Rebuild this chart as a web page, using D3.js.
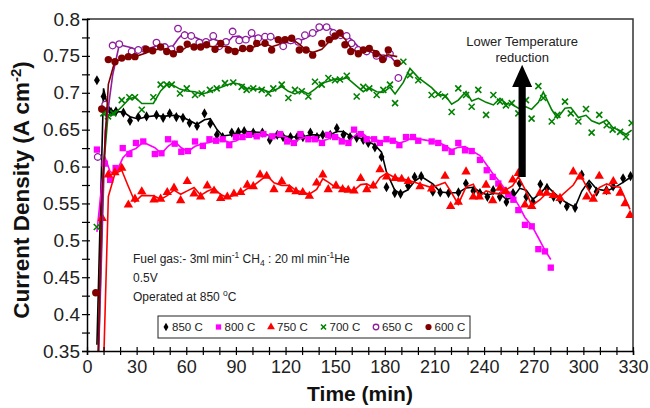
<!DOCTYPE html>
<html><head><meta charset="utf-8">
<script src="https://cdn.jsdelivr.net/npm/d3@7"></script>
<style>body{margin:0;background:#fff}svg{display:block;font-family:"Liberation Sans",Arial,sans-serif}</style>
</head><body><svg id="c" width="650" height="408"></svg>
<script>
// ---- data (time in min, current density in A cm-2) ----
const t850 = [6,10,12,14.5,17.5,22,26,31,36,42,46,50,54,58,62,66.5,71,74.5,78.5,82,87.5,91.5,95,100.5,106,110.5,115,118.5,123,127,130.5,135,139,142.5,147,151,155,159,163,167,170,174,178,181,186,189.5,194,198,202,209,213.5,218.5,224.5,229,233.5,237.5,242,245.5,249.5,253.5,257.5,261.5,265.5,269.5,274,278,282,286,290,295,299,303.5,308,314,318,324,328.5];
const v850 = [0.717,0.695,0.677,0.674,0.675,0.673,0.662,0.667,0.668,0.670,0.666,0.672,0.667,0.666,0.659,0.655,0.672,0.658,0.643,0.640,0.646,0.647,0.648,0.646,0.646,0.636,0.643,0.640,0.640,0.640,0.640,0.646,0.640,0.643,0.643,0.652,0.643,0.640,0.639,0.636,0.632,0.626,0.613,0.572,0.564,0.563,0.574,0.586,0.587,0.566,0.565,0.564,0.565,0.577,0.567,0.564,0.559,0.568,0.559,0.552,0.564,0.577,0.559,0.552,0.576,0.571,0.559,0.555,0.546,0.544,0.589,0.573,0.566,0.568,0.573,0.584,0.587];
const t800 = [6,10.7,14,17.3,21.6,25.6,29.6,34,41,45,49,53,57,61,65.3,70,74,78,82,86,90,94,98,102.6,106.6,112,116.7,121,125,129,133.8,137.8,142,145.8,150,154,158,161.4,165.4,169,173.5,177,181,184.8,188.8,192.8,197,200.2,208.3,212.3,216.4,220.4,224.4,228.5,232.5,237.5,241.6,245.2,248.6,251.6,254.6,257.7,260.7,264.7,268.8,272.8,276.8,280.3];
const v800 = [0.623,0.604,0.582,0.598,0.625,0.617,0.632,0.634,0.617,0.618,0.637,0.631,0.620,0.621,0.634,0.628,0.637,0.635,0.637,0.629,0.640,0.640,0.643,0.641,0.644,0.641,0.644,0.634,0.632,0.644,0.637,0.637,0.632,0.643,0.640,0.634,0.632,0.650,0.644,0.637,0.637,0.632,0.637,0.635,0.629,0.640,0.640,0.635,0.634,0.632,0.625,0.620,0.632,0.622,0.621,0.609,0.595,0.586,0.577,0.568,0.562,0.555,0.541,0.521,0.519,0.488,0.485,0.463];
const t750 = [9.2,12.9,16.9,21,25,29,33.1,40.5,44.5,48.5,52.6,56.6,60.6,64.7,68.7,72.7,76.8,80.8,84.8,88.8,92.9,96.9,100.5,104.6,108.6,113,117.7,122.3,126.3,130.4,134.4,138.8,142.5,145.8,150.5,154.5,157.9,161.4,165.4,169.1,173,177.1,181.1,186.2,190.2,194.2,201.3,208.3,216.4,219.8,224.4,229.1,233.5,237.1,241.2,245.2,249.6,253.2,257.3,260.7,264.7,268.8,273.8,277.8,281.8,285.9,293.9,298,302,306,309.6,314.1,318.1,322.2,325.2,328.2];
const v750 = [0.53,0.589,0.592,0.598,0.548,0.556,0.566,0.555,0.556,0.565,0.571,0.554,0.580,0.563,0.559,0.574,0.567,0.557,0.559,0.563,0.565,0.575,0.573,0.589,0.587,0.569,0.580,0.569,0.566,0.565,0.560,0.578,0.589,0.569,0.574,0.569,0.568,0.567,0.584,0.569,0.574,0.596,0.586,0.584,0.583,0.580,0.573,0.570,0.587,0.546,0.552,0.593,0.559,0.559,0.575,0.554,0.571,0.566,0.582,0.591,0.548,0.546,0.564,0.564,0.561,0.557,0.593,0.586,0.559,0.556,0.587,0.566,0.580,0.564,0.550,0.534];
const t700 = [5.9,9.9,12.7,15.9,21,25.6,29,33.1,40.1,44.5,48.2,51.2,56.2,60.3,65.3,69.3,74.3,78.4,83.4,88.4,93.5,96.5,100.5,105.6,109.6,112.6,117.7,121.7,125.7,129.8,133.8,137.8,141.9,145.9,149.9,152.9,157,163,167,170.6,175.1,179.1,183.1,186.2,191.2,195.2,200.2,208.3,212.3,216.4,220.4,224.4,229.1,232.5,236.5,241.2,245.6,249.6,253.2,256.7,260.7,265.3,268.7,272.8,275.8,280.9,284.3,288.9,292.4,297,301.6,305,309.6,314.1,317.7,322.2,325.8,329.2];
const v700 = [0.518,0.672,0.668,0.672,0.690,0.694,0.694,0.677,0.694,0.711,0.711,0.711,0.699,0.706,0.697,0.699,0.704,0.706,0.713,0.714,0.708,0.704,0.706,0.704,0.699,0.706,0.711,0.693,0.704,0.702,0.695,0.715,0.711,0.720,0.717,0.718,0.723,0.695,0.708,0.706,0.697,0.704,0.711,0.686,0.742,0.724,0.717,0.697,0.698,0.695,0.674,0.706,0.697,0.681,0.704,0.670,0.697,0.688,0.683,0.686,0.672,0.690,0.665,0.709,0.693,0.661,0.670,0.688,0.672,0.661,0.678,0.646,0.670,0.656,0.650,0.647,0.640,0.659];
const t650 = [6.5,11,15.5,19.5,27,31,35,42,47,51,55,59,63,67.9,71.9,76.3,79.9,84,88,92,96,99.5,103.5,107.6,111,118.6,123.1,127.7,131.7,136.4,140.4,144.8,148.9,153.3,156.9,159.9,163.9,169,175,179.1,183.1,188.2];
const v650 = [0.613,0.684,0.764,0.766,0.756,0.758,0.759,0.768,0.762,0.759,0.787,0.778,0.777,0.768,0.769,0.777,0.763,0.769,0.783,0.771,0.772,0.781,0.774,0.776,0.776,0.763,0.771,0.769,0.778,0.781,0.789,0.789,0.781,0.778,0.777,0.767,0.758,0.756,0.750,0.747,0.753,0.720];
const t600 = [5.3,8.9,12.9,16.9,21,25,29,35.7,39.7,44.5,48.2,52.2,56.2,60.6,64.7,68.7,72.3,77.4,80.8,85.4,89.5,94.1,98.5,102.6,107.6,111.6,115.6,119.7,123.7,128.3,132.4,136.4,141.9,146.4,149.9,152.9,155.9,159.4,164,167,170.6,174.7,178.7,182.1,187.5];
const v600 = [0.429,0.678,0.745,0.742,0.747,0.749,0.749,0.759,0.757,0.762,0.756,0.753,0.759,0.766,0.762,0.762,0.765,0.759,0.767,0.758,0.756,0.760,0.760,0.767,0.767,0.758,0.772,0.772,0.774,0.758,0.758,0.751,0.767,0.772,0.777,0.781,0.765,0.756,0.753,0.758,0.760,0.753,0.745,0.758,0.740];

// value at which each 2-period moving-average trendline begins (start of run)
const lineStarts = [0, 0.40, 0, 0, 0, 0];
const seriesNames = ["850 C","800 C","750 C","700 C","650 C","600 C"];
const seriesTimes = [t850,t800,t750,t700,t650,t600];
const seriesValues = [v850,v800,v750,v700,v650,v600];

const xMajorTicks = [0,30,60,90,120,150,180,210,240,270,300,330];
const xMinorTicks = d3.range(0,331,10);
const yMajorTicks = [0.35,0.4,0.45,0.5,0.55,0.6,0.65,0.7,0.75,0.8];
const yTickLabels = ["0.35","0.4","0.45","0.5","0.55","0.6","0.65","0.7","0.75","0.8"];
const yMinorTicks = d3.range(0,19).map(i=>0.35+i*0.025);

// ---- styles ----
const colors = ["#000000","#FF00FF","#FF0000","#008000","#8E1E9E","#800000"];
const markerTypes = ["diamond","square","triangle","x","circleOpen","circle"];

const svg = d3.select("#c");
const x = d3.scaleLinear().domain([0,330]).range([87,633]);
const y = d3.scaleLinear().domain([0.35,0.8]).range([351,19]);

svg.append("rect").attr("width",650).attr("height",408).attr("fill","#fff");
svg.append("defs").append("clipPath").attr("id","clip").append("rect")
  .attr("x",x(0)).attr("y",y(0.8)).attr("width",x(330)-x(0)).attr("height",y(0.35)-y(0.8));

// frame top/right
svg.append("path").attr("d",`M${x(0)},${y(0.8)}H${x(330)}V${y(0.35)}`)
  .attr("fill","none").attr("stroke","#333").attr("stroke-width",1.5);

function drawMarker(sel, type, color, k){
  k = k || 1;
  if(type==="diamond") sel.append("path").attr("d",d3.symbol(d3.symbolDiamond,30*k)()).attr("fill",color);
  else if(type==="square") sel.append("path").attr("d",d3.symbol(d3.symbolSquare,40*k)()).attr("fill",color);
  else if(type==="triangle") sel.append("path").attr("d",d3.symbol(d3.symbolTriangle,38*k)()).attr("fill",color);
  else if(type==="x") { const s=3*Math.sqrt(k); sel.append("path").attr("d",`M-${s},-${s}L${s},${s}M-${s},${s}L${s},-${s}`).attr("stroke",color).attr("stroke-width",1.6).attr("fill","none"); }
  else if(type==="circleOpen") sel.append("circle").attr("r",3.3*Math.sqrt(k)).attr("fill","#fff").attr("stroke",color).attr("stroke-width",1.3);
  else sel.append("circle").attr("r",3.7*Math.sqrt(k)).attr("fill",color);
}

const plot = svg.append("g").attr("clip-path","url(#clip)");
const line = d3.line().x(d=>x(d.t)).y(d=>y(d.v));
seriesNames.forEach((name,si)=>{
  const ts = seriesTimes[si], vs = seriesValues[si];
  const ext = [lineStarts[si]].concat(vs);
  const trend = vs.map((v,i)=>({t:ts[i], v:(ext[i]+ext[i+1])/2}));
  const g = plot.append("g");
  g.append("path").attr("d",line(trend)).attr("fill","none").attr("stroke",colors[si]).attr("stroke-width",1.6);
  const pts = vs.map((v,i)=>({t:ts[i],v}));
  g.selectAll("g.m").data(pts).join("g").attr("class","m")
    .attr("transform",d=>`translate(${x(d.t)},${y(d.v)})`)
    .each(function(){ drawMarker(d3.select(this), markerTypes[si], colors[si]); });
});

// axes
const yAxis = svg.append("g").attr("transform",`translate(${x(0)},0)`)
  .call(d3.axisLeft(y).tickValues(yMinorTicks).tickSize(5).tickFormat(""));
yAxis.selectAll(".tick line").attr("x1",3).attr("stroke","#000").attr("stroke-width",1.2);
yAxis.select(".domain").attr("stroke","#000").attr("stroke-width",1.5);
const yLab = svg.append("g").attr("transform",`translate(${x(0)},0)`)
  .call(d3.axisLeft(y).tickValues(yMajorTicks).tickSize(0).tickPadding(7).tickFormat((d,i)=>yTickLabels[i]));
yLab.select(".domain").remove();
yLab.selectAll("text").attr("font-size",19).attr("fill","#222").attr("font-family","Liberation Sans, Arial, sans-serif");

const xAxis = svg.append("g").attr("transform",`translate(0,${y(0.35)})`)
  .call(d3.axisBottom(x).tickValues(xMinorTicks).tickSize(4).tickFormat(""));
xAxis.selectAll(".tick line").attr("y1",-4).attr("stroke","#000").attr("stroke-width",1.2);
xAxis.select(".domain").attr("stroke","#000").attr("stroke-width",1.5);
const xLab = svg.append("g").attr("transform",`translate(0,${y(0.35)})`)
  .call(d3.axisBottom(x).tickValues(xMajorTicks).tickSize(0).tickPadding(9).tickFormat(d3.format("d")));
xLab.select(".domain").remove();
xLab.selectAll("text").attr("font-size",18).attr("fill","#222").attr("font-family","Liberation Sans, Arial, sans-serif");

// axis titles
svg.append("text").attr("x",(x(0)+x(330))/2).attr("y",401).attr("text-anchor","middle")
  .attr("font-size",21).attr("font-weight","bold").attr("fill","#111").text("Time (min)");
const yt = svg.append("text").attr("transform","translate(29,190) rotate(-90)").attr("text-anchor","middle")
  .attr("font-size",22.5).attr("font-weight","bold").attr("fill","#111");
yt.append("tspan").text("Current Density (A cm");
yt.append("tspan").attr("dy",-8).attr("font-size",15).text("-2");
yt.append("tspan").attr("dy",8).text(")");

// annotations
const ann = svg.append("g").attr("font-size",12).attr("fill","#222");
const l1 = ann.append("text").attr("x",133).attr("y",263);
l1.append("tspan").text("Fuel gas:- 3ml min");
l1.append("tspan").attr("dy",-5).attr("font-size",8.5).text("-1");
l1.append("tspan").attr("dy",5).text(" CH");
l1.append("tspan").attr("dy",3).attr("font-size",8.5).text("4");
l1.append("tspan").attr("dy",-3).text(" : 20 ml min");
l1.append("tspan").attr("dy",-5).attr("font-size",8.5).text("-1");
l1.append("tspan").attr("dy",5).text("He");
ann.append("text").attr("x",133).attr("y",282).text("0.5V");
const l3 = ann.append("text").attr("x",133).attr("y",301);
l3.append("tspan").text("Operated at 850 ");
l3.append("tspan").attr("dy",-5).attr("font-size",8.5).text("o");
l3.append("tspan").attr("dy",5).text("C");

const arrowT = 263, arrowFrom = 0.586, arrowHeadBase = 0.708, arrowTip = 0.738;
ann.append("text").attr("x",x(arrowT)).attr("y",46).attr("text-anchor","middle").attr("font-size",13).text("Lower Temperature");
ann.append("text").attr("x",x(arrowT)).attr("y",62).attr("text-anchor","middle").attr("font-size",13).text("reduction");
const ax = x(arrowT);
svg.append("path").attr("d",`M${ax-3.6},${y(arrowFrom)}V${y(arrowHeadBase)}H${ax-10}L${ax},${y(arrowTip)}L${ax+10},${y(arrowHeadBase)}H${ax+3.6}V${y(arrowFrom)}Z`).attr("fill","#000");

// legend
const lg = svg.append("g");
lg.append("rect").attr("x",158).attr("y",316).attr("width",312).attr("height",22).attr("fill","#fff").attr("stroke","#222").attr("stroke-width",1);
seriesNames.forEach((name,si)=>{
  const cx = 166 + si*52.5;
  const m = lg.append("g").attr("transform",`translate(${cx},327)`);
  drawMarker(m, markerTypes[si], colors[si], 0.7);
  lg.append("text").attr("x",cx+6).attr("y",331.3).attr("font-size",11.5).attr("fill","#222").text(name);
});
</script></body></html>
